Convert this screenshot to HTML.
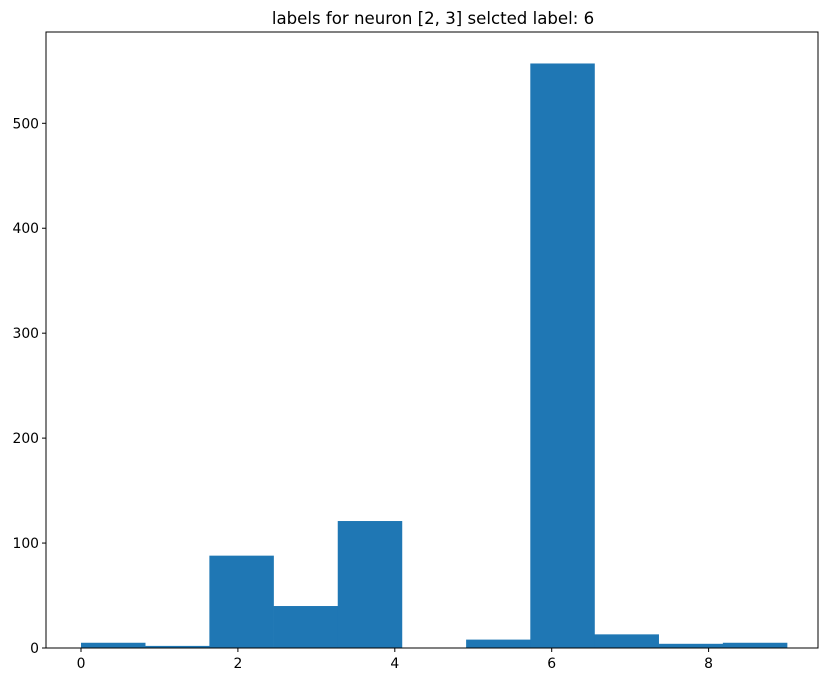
<!DOCTYPE html>
<html><head><meta charset="utf-8"><style>
body{margin:0;background:#fff;font-family:"Liberation Sans","DejaVu Sans",sans-serif;}
svg text{font-family:"DejaVu Sans","Liberation Sans",sans-serif;font-size:13.9px;fill:#000;}
</style></head><body>
<svg id="chart" width="831" height="682">
<text x="433" y="24" text-anchor="middle" style="font-size:16.6px">labels for neuron [2, 3] selcted label: 6</text>
<g id="bars"></g><g id="axes"></g>
</svg>
<script>
const binCounts=[5,2,88,40,121,0,8,557,13,4,5];
const binStart=0, binEnd=9;
const xTicks=[0,2,4,6,8];
const yTicks=[0,100,200,300,400,500];
const L=46,R=818,T=32,B=648,ymax=587;
const sx=v=>81+v*78.45;
const sy=v=>B-v/ymax*(B-T);
const ns='http://www.w3.org/2000/svg';
const bars=document.getElementById('bars'),axes=document.getElementById('axes');
function mk(p,tag,a){const e=document.createElementNS(ns,tag);for(const k in a)e.setAttribute(k,a[k]);p.appendChild(e);return e;}
const w=(binEnd-binStart)/binCounts.length;
binCounts.forEach((c,i)=>{
 const x0=sx(binStart+i*w),x1=sx(binStart+(i+1)*w);
 const r=mk(bars,'rect',{x:x0,y:sy(c),width:x1-x0+0.3,height:B-sy(c),fill:'#1f77b4'});
 
 
});
const frame=mk(axes,'rect',{x:L,y:T,width:R-L,height:B-T,fill:'none',stroke:'#000','stroke-width':1});


xTicks.forEach(t=>{
 const x=sx(t);
 mk(axes,'line',{x1:x,x2:x,y1:B,y2:B+4,stroke:'#000'});
 const tx=mk(axes,'text',{x:x,y:B+20,'text-anchor':'middle'});tx.textContent=t;
 
 
});
yTicks.forEach(t=>{
 const y=sy(t);
 mk(axes,'line',{x1:L-4,x2:L,y1:y,y2:y,stroke:'#000'});
 const tx=mk(axes,'text',{x:L-7,y:y+5,'text-anchor':'end'});tx.textContent=t;
 
 
});
</script>
</body></html>
